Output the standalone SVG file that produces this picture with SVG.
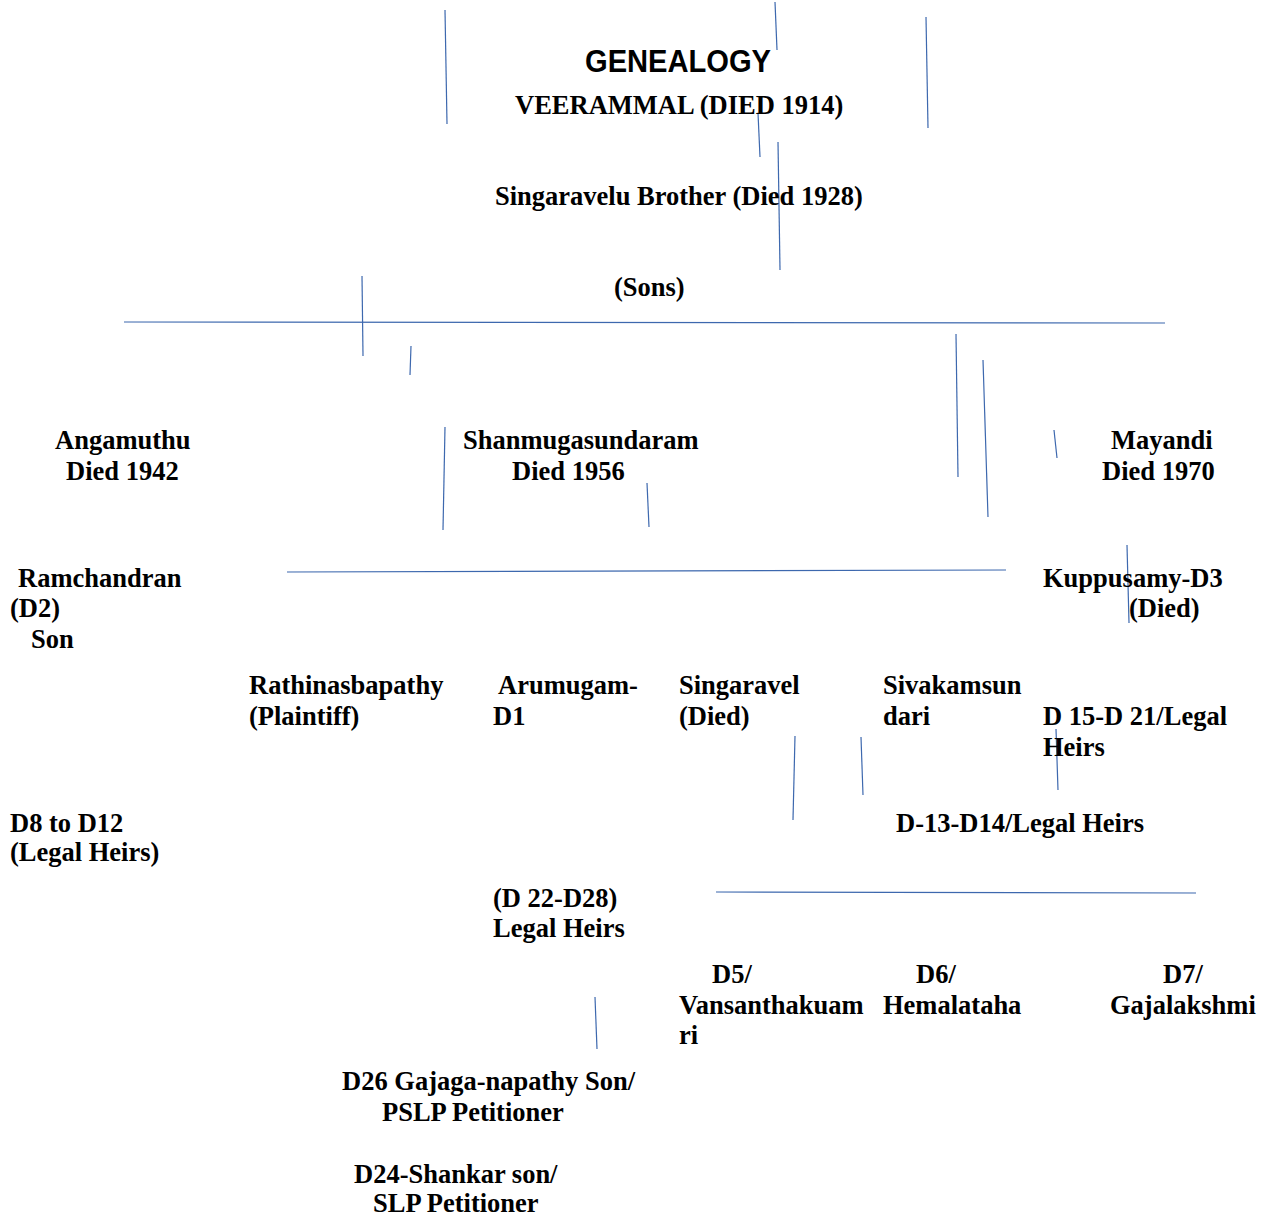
<svg xmlns="http://www.w3.org/2000/svg" width="1268" height="1216" viewBox="0 0 1268 1216">
<style>
  .t { font-family: "Liberation Serif", "Times New Roman", serif; font-weight: bold; font-size: 26.5px; fill: #000; }
  .h { font-family: "Liberation Sans", Arial, sans-serif; font-weight: bold; font-size: 32px; fill: #000; }
  .c line { stroke: #3D68AE; stroke-width: 1.2; fill: none; }
</style>
<rect width="1268" height="1216" fill="#fff"/>
<g id="connectors" class="c">
  <line x1="445" y1="10" x2="447" y2="124"/>
  <line x1="775" y1="2" x2="777" y2="50"/>
  <line x1="926" y1="17" x2="928" y2="128"/>
  <line x1="758" y1="113" x2="760" y2="157"/>
  <line x1="778" y1="142" x2="780" y2="270"/>
  <line x1="124" y1="322" x2="1165" y2="323"/>
  <line x1="362" y1="276" x2="363" y2="356"/>
  <line x1="411" y1="346" x2="410" y2="375"/>
  <line x1="445" y1="427" x2="443" y2="530"/>
  <line x1="647" y1="483" x2="649" y2="527"/>
  <line x1="956" y1="334" x2="958" y2="477"/>
  <line x1="983" y1="360" x2="988" y2="517"/>
  <line x1="1054" y1="430" x2="1057" y2="458"/>
  <line x1="287" y1="572" x2="1006" y2="570"/>
  <line x1="1127" y1="545" x2="1129" y2="623"/>
  <line x1="795" y1="736" x2="793" y2="820"/>
  <line x1="861" y1="737" x2="863" y2="795"/>
  <line x1="1056" y1="729" x2="1058" y2="790"/>
  <line x1="716" y1="892" x2="1196" y2="893"/>
  <line x1="595" y1="997" x2="597" y2="1049"/>
</g>
<g id="title"><text class="h" x="585" y="72" textLength="186" lengthAdjust="spacingAndGlyphs">GENEALOGY</text></g>
<g id="veerammal"><text class="t" x="515" y="114">VEERAMMAL (DIED 1914)</text></g>
<g id="singaravelu-brother"><text class="t" x="495" y="205">Singaravelu Brother (Died 1928)</text></g>
<g id="sons"><text class="t" x="614" y="296">(Sons)</text></g>
<g id="angamuthu"><text class="t" x="55" y="449">Angamuthu</text><text class="t" x="66" y="480">Died 1942</text></g>
<g id="shanmugasundaram"><text class="t" x="463" y="449">Shanmugasundaram</text><text class="t" x="512" y="480">Died 1956</text></g>
<g id="mayandi"><text class="t" x="1111" y="449">Mayandi</text><text class="t" x="1102" y="480">Died 1970</text></g>
<g id="ramchandran"><text class="t" x="18" y="587">Ramchandran</text><text class="t" x="10" y="617">(D2)</text><text class="t" x="31" y="648">Son</text></g>
<g id="kuppusamy"><text class="t" x="1043" y="587">Kuppusamy-D3</text><text class="t" x="1129" y="617">(Died)</text></g>
<g id="rathinasbapathy"><text class="t" x="249" y="694">Rathinasbapathy</text><text class="t" x="249" y="725">(Plaintiff)</text></g>
<g id="arumugam"><text class="t" x="498" y="694">Arumugam-</text><text class="t" x="493" y="725">D1</text></g>
<g id="singaravel"><text class="t" x="679" y="694">Singaravel</text><text class="t" x="679" y="725">(Died)</text></g>
<g id="sivakamsundari"><text class="t" x="883" y="694">Sivakamsun</text><text class="t" x="883" y="725">dari</text></g>
<g id="d15-d21"><text class="t" x="1043" y="725">D 15-D 21/Legal</text><text class="t" x="1043" y="756">Heirs</text></g>
<g id="d8-d12"><text class="t" x="10" y="832">D8 to D12</text><text class="t" x="10" y="861">(Legal Heirs)</text></g>
<g id="d13-d14"><text class="t" x="896" y="832">D-13-D14/Legal Heirs</text></g>
<g id="d22-d28"><text class="t" x="493" y="907">(D 22-D28)</text><text class="t" x="493" y="937">Legal Heirs</text></g>
<g id="d5"><text class="t" x="712" y="983">D5/</text><text class="t" x="679" y="1014">Vansanthakuam</text><text class="t" x="679" y="1044">ri</text></g>
<g id="d6"><text class="t" x="916" y="983">D6/</text><text class="t" x="883" y="1014">Hemalataha</text></g>
<g id="d7"><text class="t" x="1163" y="983">D7/</text><text class="t" x="1110" y="1014">Gajalakshmi</text></g>
<g id="d26"><text class="t" x="342" y="1090">D26 Gajaga-napathy Son/</text><text class="t" x="382" y="1121">PSLP Petitioner</text></g>
<g id="d24"><text class="t" x="354" y="1183">D24-Shankar son/</text><text class="t" x="373" y="1212">SLP Petitioner</text></g>
</svg>
